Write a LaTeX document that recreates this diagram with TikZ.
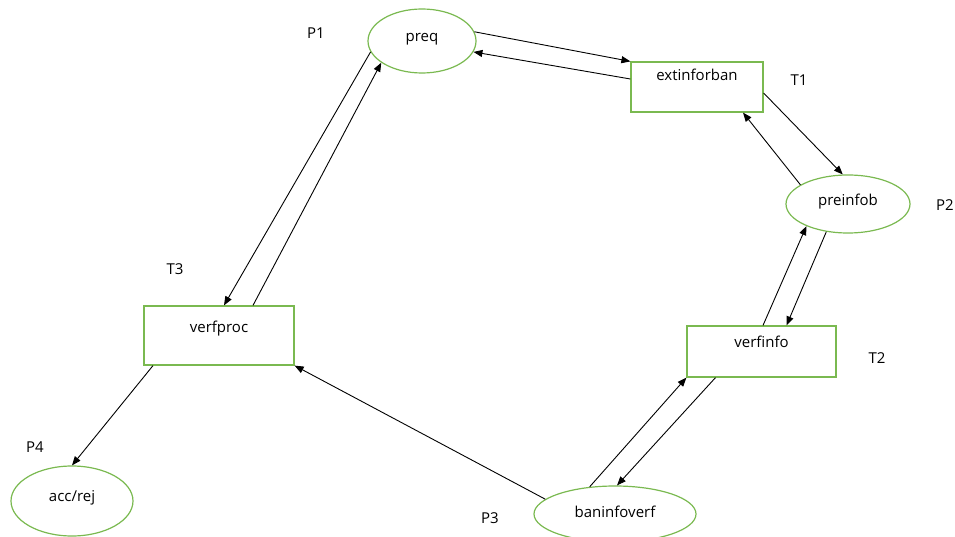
\documentclass[tikz,border=0pt]{standalone}
\usepackage{fontspec}
\setmainfont{Open Sans}
\usetikzlibrary{shapes.geometric,arrows.meta}
\definecolor{boxgreen}{RGB}{122,185,80}
\begin{document}
\begin{tikzpicture}[x=1pt,y=-1pt,
  font=\fontsize{15}{18}\selectfont,
  place/.style={ellipse,draw=boxgreen,line width=1.2pt,inner sep=0pt,text height=12pt},
  trans/.style={rectangle,draw=boxgreen,line width=1.2pt,inner sep=0pt,text height=12pt},
  arc/.style={draw=black,line width=0.9pt,-{Triangle[length=9pt,width=7pt]}},
  tag/.style={inner sep=0pt}]
\useasboundingbox (0,0) rectangle (955,537);
% places
\node[place,minimum width=108pt,minimum height=64pt,text depth=10pt] (preq) at (422,41) {preq};
\node[place,minimum width=124pt,minimum height=58pt,text depth=8pt] (preinfob) at (848,204) {preinfob};
\node[place,minimum width=162pt,minimum height=56pt,text depth=6pt] (baninfoverf) at (615,514) {baninfoverf};
\node[place,minimum width=122pt,minimum height=70pt,text depth=12pt] (accrej) at (72,501) {acc/rej};
% transitions
\node[trans,minimum width=132pt,minimum height=50pt,text depth=24pt] (extinforban) at (697,87) {extinforban};
\node[trans,minimum width=149pt,minimum height=51pt,text depth=21pt] (verfinfo) at (761.5,351.5) {verfinfo};
\node[trans,minimum width=150pt,minimum height=59pt,text depth=19pt] (verfproc) at (219,335.5) {verfproc};
% tags
\node[tag] (p1) at (316,33) {P1};
\node[tag] (t1) at (799,80) {T1};
\node[tag] (p2) at (945,205) {P2};
\node[tag] (t2) at (877,358) {T2};
\node[tag] (p3) at (490,518) {P3};
\node[tag] (t3) at (175,269) {T3};
\node[tag] (p4) at (35,447) {P4};
% arcs
\draw[arc] (preq.10) -- (extinforban.north west);
\draw[arc] ([yshift=8pt]extinforban.west) -- (preq.-12);
\draw[arc] ([yshift=-6pt]extinforban.east) -- (preinfob.100);
\draw[arc] (preinfob.158) -- ([xshift=46pt]extinforban.south);
\draw[arc] ([xshift=1.5pt]verfinfo.north) -- (preinfob.208);
\draw[arc] (preinfob.232) -- ([xshift=25pt]verfinfo.north);
\draw[arc] (baninfoverf.133) -- (verfinfo.south west);
\draw[arc] ([xshift=-46pt]verfinfo.south) -- (baninfoverf.86);
\draw[arc] (baninfoverf.168) -- (verfproc.south east);
\draw[arc] (preq.192) -- ([xshift=5pt]verfproc.north);
\draw[arc] ([xshift=34pt]verfproc.north) -- (preq.208);
\draw[arc] ([xshift=-66pt]verfproc.south) -- (accrej.north);
\end{tikzpicture}
\end{document}
